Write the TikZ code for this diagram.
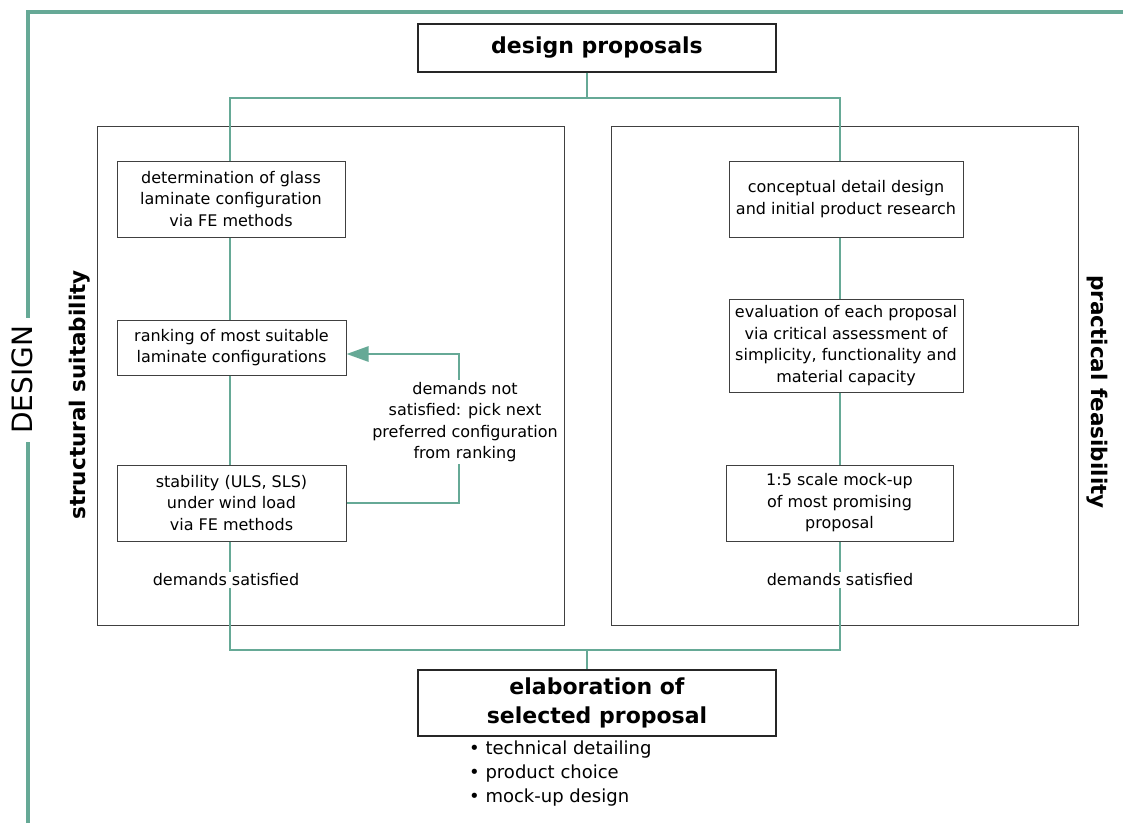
\documentclass[tikz,border=0pt]{standalone}
\usepackage{fontspec}
\setmainfont{DejaVu Sans}
\usetikzlibrary{arrows.meta}
\definecolor{flow}{HTML}{66A996}
\definecolor{frame}{HTML}{404040}
\tikzset{
  flowline/.style={draw=flow, line width=2.8pt},
  designline/.style={draw=flow, line width=3.6pt},
  panel/.style={draw=frame, line width=0.9pt, minimum width=467pt, minimum height=499pt, inner sep=0pt},
  stepbox/.style={draw=frame, line width=1pt, fill=white, align=center, inner sep=2pt,
    font=\fontsize{16}{21.5}\selectfont},
  headbox/.style={draw=black!85, line width=1.2pt, fill=white, align=center, inner sep=2pt,
    font=\fontsize{22}{29}\selectfont\bfseries},
  note/.style={fill=white, align=center, inner sep=2pt, font=\fontsize{16}{21.5}\selectfont},
  sidetitle/.style={font=\fontsize{21.5}{25}\selectfont\bfseries, inner sep=0pt},
}
\begin{document}
\begin{tikzpicture}[x=1pt, y=-1pt]
\useasboundingbox (0,0) rectangle (1123,823);

% outer design bracket
\draw[designline] (28,823) -- (28,12) -- (1123,12);
\node[fill=white, rotate=90, inner xsep=8pt, inner ysep=2pt,
  font=\fontsize{28}{30}\selectfont] (design) at (22,380) {DESIGN};

% the two assessment panels
\node[panel] (left) at (330.5,375.5) {};
\node[panel] (right) at (844.5,375.5) {};
\node[sidetitle, rotate=90] (lt) at (80,395) {structural suitability};
\node[sidetitle, rotate=-90] (rt) at (1097,392) {practical feasibility};

% headline boxes
\node[headbox, minimum width=358pt, minimum height=48pt] (dp) at (597,48) {design proposals};
\node[headbox, minimum width=358pt, minimum height=66pt] (el) at (597,703) {elaboration of\\selected proposal};
\node[anchor=north west, align=left, inner sep=0pt,
  font=\fontsize{18}{24}\selectfont] (items) at (469,741)
  {\textbullet{} technical detailing\\\textbullet{} product choice\\\textbullet{} mock-up design};

% structural branch
\node[stepbox, minimum width=228pt, minimum height=76pt] (l1) at (231,199)
  {determination of glass\\laminate configuration\\via FE methods};
\node[stepbox, minimum width=229pt, minimum height=55pt] (l2) at (231.5,347.5)
  {ranking of most suitable\\laminate configurations};
\node[stepbox, minimum width=229pt, minimum height=76pt] (l3) at (231.5,503)
  {stability (ULS, SLS)\\under wind load\\via FE methods};

% practical branch
\node[stepbox, minimum width=234pt, minimum height=76pt] (r1) at (846,199)
  {conceptual detail design\\and initial product research};
\node[stepbox, minimum width=234pt, minimum height=93pt] (r2) at (846,345.5)
  {evaluation of each proposal\\via critical assessment of\\simplicity, functionality and\\material capacity};
\node[stepbox, minimum width=227pt, minimum height=76pt] (r3) at (839.5,503)
  {1:5 scale mock-up\\of most promising\\proposal};

% junction points of the flow lines
\coordinate (split) at (587,98);
\coordinate (merge) at (587,650);
\coordinate (lx) at (230,0);
\coordinate (rx) at (840,0);
\coordinate (loop) at (459,0);
\coordinate (back) at (0,354);

% flow from the proposals into both branches
\draw[flowline] (dp.south -| split) -- (split);
\draw[flowline] (l1.north -| lx) |- (split) -| (r1.north -| rx);
\draw[flowline] (l1.south -| lx) -- (l2.north -| lx);
\draw[flowline] (l2.south -| lx) -- (l3.north -| lx);
\draw[flowline] (r1.south -| rx) -- (r2.north -| rx);
\draw[flowline] (r2.south -| rx) -- (r3.north -| rx);

% both branches merge into the elaboration
\draw[flowline] (l3.south -| lx) |- (merge) -| (r3.south -| rx);
\draw[flowline] (merge) -- (el.north -| merge);
\node[note] (ls) at (226,580) {demands satisfied};
\node[note] (rs) at (840,580) {demands satisfied};

% feedback loop of the structural branch
\draw[flowline, -{Triangle[length=22pt, width=15pt]}]
  (l3.east) -- (l3.east -| loop) -- (loop |- back) -- (l2.east |- back);
\node[note] (fb) at (465,422)
  {demands not\\satisfied: pick next\\preferred configuration\\from ranking};
\end{tikzpicture}
\end{document}
